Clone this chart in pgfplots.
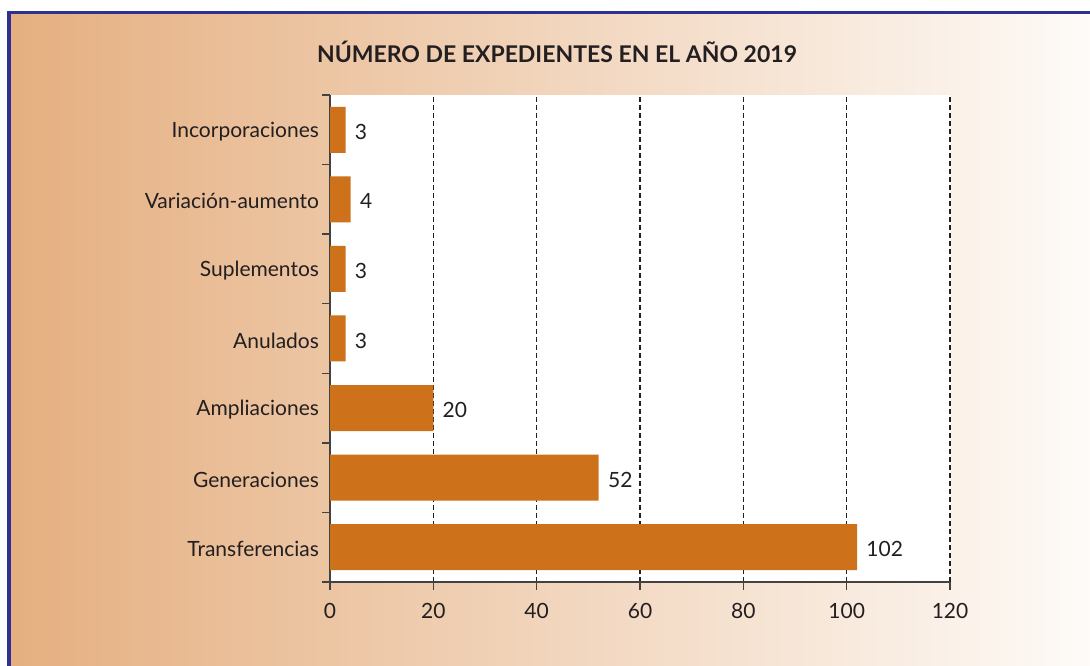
\documentclass[border=0pt]{standalone}
\usepackage{fontspec}
\setmainfont{Lato}
\usepackage{pgfplots}
\pgfplotsset{compat=1.18}
\definecolor{barc}{RGB}{205,114,26}
\definecolor{txt}{RGB}{35,31,32}
\definecolor{framec}{RGB}{46,49,146}
\definecolor{bgl}{RGB}{229,175,128}
\definecolor{bgm}{RGB}{241,210,178}
\definecolor{bgr}{RGB}{254,252,250}
\newcommand\lbl{\fontsize{10.5bp}{12.6bp}\selectfont}

\begin{document}
\begin{tikzpicture}[x=0.5bp,y=0.5bp]
\useasboundingbox (0,0) rectangle (1090,666);
\begin{scope}
  \clip (0,0) rectangle (1090,666);
  \shade[left color=bgl, middle color=bgm, right color=bgr] (9,-20) rectangle (1110,653.5);
  \draw[framec, line width=1.5bp] (9,-20) -- (9,653.5) -- (1110,653.5);
\end{scope}
\node[font=\fontsize{11.5bp}{13bp}\selectfont\bfseries, text=txt] at (557,614) {NÚMERO DE EXPEDIENTES EN EL AÑO 2019};
\begin{axis}[
  at={(165bp,42bp)}, anchor=south west,
  scale only axis, width=310bp, height=243.5bp,
  xbar, bar width=23bp,
  xmin=0, xmax=120, ymin=-0.5, ymax=6.5,
  xtick={0,20,...,120},
  ytick={-0.5,0.5,...,6.5}, yticklabels={},
  extra y ticks={0,1,2,3,4,5,6},
  extra y tick labels={Transferencias,Generaciones,Ampliaciones,Anulados,Suplementos,Variación-aumento,Incorporaciones},
  extra y tick style={major tick length=0pt, grid=none},
  axis x line*=bottom, axis y line*=left,
  axis line style={draw=txt!85, line width=0.75bp},
  tick style={draw=txt!85, line width=0.75bp},
  tick align=outside, major tick length=4bp,
  xmajorgrids,
  grid style={draw=txt, line width=0.6bp, dash pattern=on 2.5bp off 1.5bp},
  axis background/.style={fill=white},
  ticklabel style={font=\lbl, text=txt},
  xticklabel style={yshift=-3bp},
  yticklabel style={xshift=-2bp, yshift=-1bp},
  nodes near coords,
  nodes near coords style={font=\lbl, text=txt, anchor=west, inner sep=0pt, xshift=4.5bp, yshift=-1bp},
  /pgf/number format/assume math mode=true,
]
\addplot[fill=barc, draw=none] coordinates {(102,0) (52,1) (20,2) (3,3) (3,4) (4,5) (3,6)};
\end{axis}
\end{tikzpicture}
\end{document}
